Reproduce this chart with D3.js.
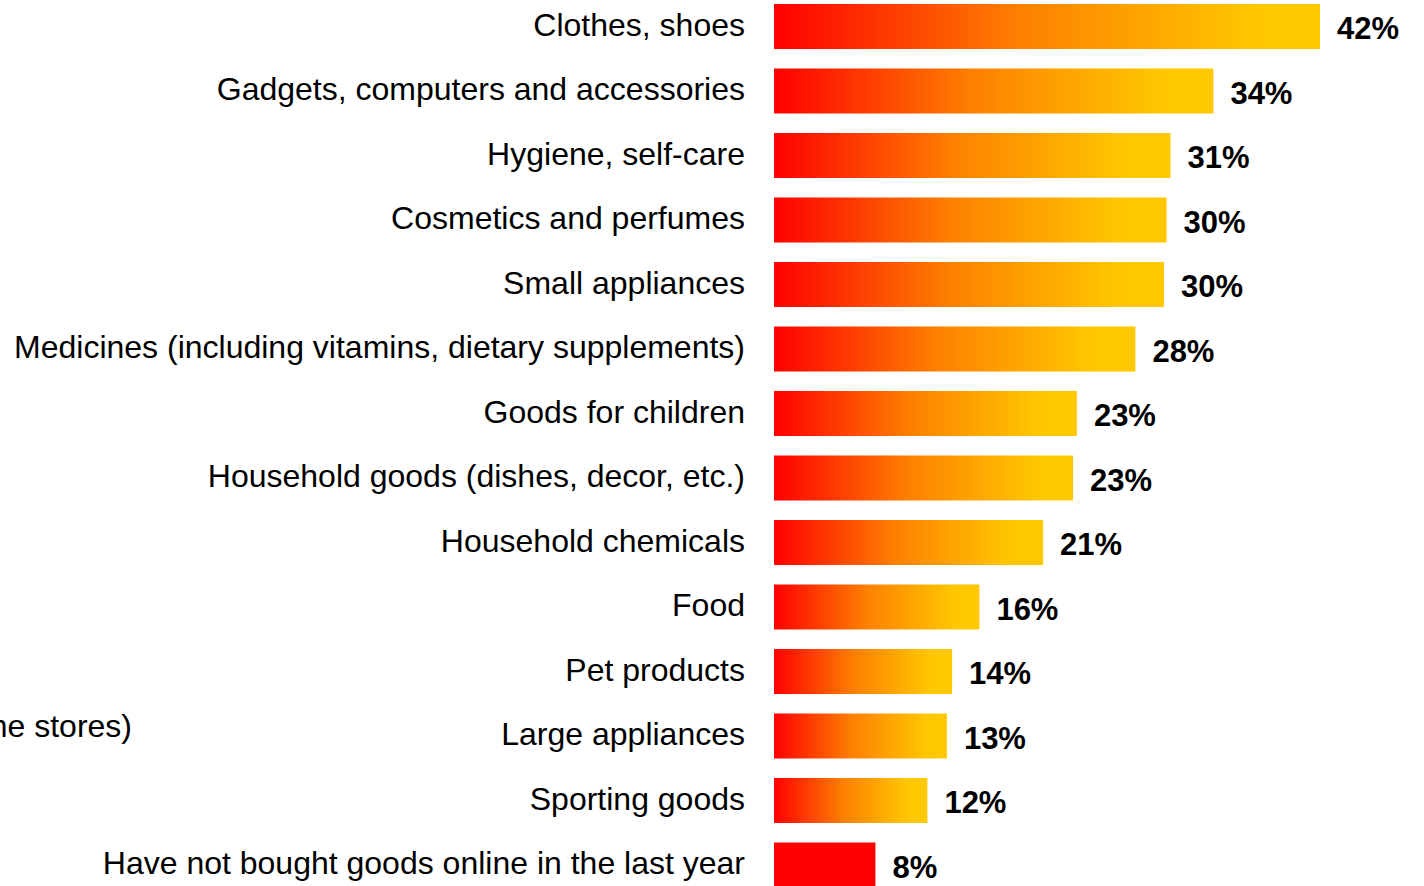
<!DOCTYPE html>
<html>
<head>
<meta charset="utf-8">
<script src="https://cdn.jsdelivr.net/npm/d3@7"></script>
<style>
  html, body { margin: 0; padding: 0; background: #ffffff; }
  svg { display: block; }
</style>
</head>
<body>
<svg id="chart" width="1424" height="886"></svg>
<script>
// Online purchase categories, share of respondents (%)
const categories = [
  "Clothes, shoes",
  "Gadgets, computers and accessories",
  "Hygiene, self-care",
  "Cosmetics and perfumes",
  "Small appliances",
  "Medicines (including vitamins, dietary supplements)",
  "Goods for children",
  "Household goods (dishes, decor, etc.)",
  "Household chemicals",
  "Food",
  "Pet products",
  "Large appliances",
  "Sporting goods",
  "Have not bought goods online in the last year"
];
const values = [42.0, 33.8, 30.5, 30.2, 30.0, 27.8, 23.3, 23.0, 20.7, 15.8, 13.7, 13.3, 11.8, 7.8];
const valueLabels = ["42%", "34%", "31%", "30%", "30%", "28%", "23%", "23%", "21%", "16%", "14%", "13%", "12%", "8%"];
// Text running off the left edge of the drawing
const strayLabel = "(in online stores)";

const svg = d3.select("#chart");

const barH = 45, rowStep = 64.5, firstTop = 4;
const x = d3.scaleLinear().domain([0, 42]).range([774, 1320]);
const y = d3.scaleBand()
  .domain(categories)
  .range([firstTop, firstTop + rowStep * (categories.length - 1) + barH])
  .paddingInner((rowStep - barH) / rowStep)
  .paddingOuter(0);

const font = "'Liberation Sans', Arial, sans-serif";

// Gradient running red to amber along each bar
const defs = svg.append("defs");
const grad = defs.append("linearGradient")
  .attr("id", "barGrad")
  .attr("x1", "0%").attr("x2", "100%").attr("y1", "0%").attr("y2", "0%");
grad.append("stop").attr("offset", "0%").attr("stop-color", "#ff0000");
grad.append("stop").attr("offset", "45%").attr("stop-color", "#fd8000");
grad.append("stop").attr("offset", "88%").attr("stop-color", "#ffc700");
grad.append("stop").attr("offset", "100%").attr("stop-color", "#ffc800");

const lastCat = categories[categories.length - 1];

svg.append("g").selectAll("rect")
  .data(categories)
  .join("rect")
  .attr("x", x(0))
  .attr("y", d => y(d))
  .attr("width", (d, i) => x(values[i]) - x(0))
  .attr("height", y.bandwidth())
  .attr("fill", d => d === lastCat ? "#ff0000" : "url(#barGrad)");

// Category axis on the left
const yAxis = d3.axisLeft(y).tickSize(0).tickPadding(0);
const gAxis = svg.append("g")
  .attr("transform", "translate(745, 0)")
  .call(yAxis);
gAxis.select(".domain").remove();
gAxis.selectAll(".tick")
  .attr("transform", d => `translate(0, ${y(d) + y.bandwidth() / 2 - 2})`);
gAxis.selectAll("text")
  .attr("font-family", font)
  .attr("font-size", 32)
  .attr("fill", "#000")
  .attr("x", 0)
  .attr("dy", "0.35em");

// Value labels
svg.append("g").selectAll("text")
  .data(categories)
  .join("text")
  .attr("x", (d, i) => x(values[i]) + 17)
  .attr("y", d => y(d) + y.bandwidth() / 2 + 2)
  .attr("dy", "0.35em")
  .attr("font-family", font)
  .attr("font-weight", "bold")
  .attr("font-size", 31)
  .attr("fill", "#000")
  .text((d, i) => valueLabels[i]);

svg.append("text")
  .attr("x", 132)
  .attr("y", y(categories[11]) + y.bandwidth() / 2 - 10)
  .attr("dy", "0.35em")
  .attr("text-anchor", "end")
  .attr("font-family", font)
  .attr("font-size", 32)
  .attr("fill", "#000")
  .text(strayLabel);
</script>
</body>
</html>
